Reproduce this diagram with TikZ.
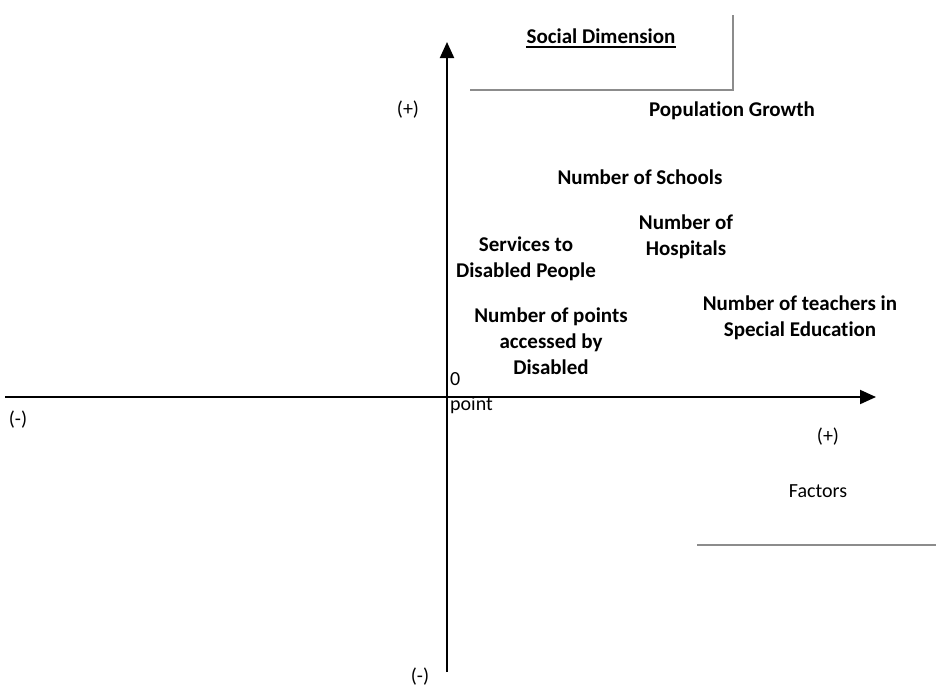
\documentclass[tikz,border=0pt]{standalone}
\usepackage{fontspec}
\setmainfont{Carlito}[Ligatures=NoCommon]
\usetikzlibrary{arrows.meta}
\tikzset{
  factor/.style={font=\bfseries\fontsize{21}{26}\selectfont,align=center,inner sep=0pt},
  plain/.style={font=\fontsize{20}{26}\selectfont,inner sep=0pt},
  axis/.style={line width=2pt,-{Triangle[length=16pt,width=14pt]}},
  frame/.style={line width=1.5pt,black!45}
}
\begin{document}
\begin{tikzpicture}[x=1pt,y=-1pt]
\useasboundingbox (0,0) rectangle (936,689);
\coordinate (L) at (5,397);
\coordinate (R) at (876,397);
\coordinate (B) at (447,672);
\coordinate (T) at (447,42);
\draw [axis] (L) -- (R);
\draw [axis] (B) -- (T);
\coordinate (F1) at (470,90);
\coordinate (F2) at (733,90);
\coordinate (F3) at (733,15);
\draw [frame] (F1) -- (F2) -- (F3);
\draw [frame] (697,545) -- (936,545);
\node (title) [factor] at (601,36) {Social Dimension};
\draw [line width=1.6pt] ([yshift=-3.5pt]title.base west) -- ([yshift=-3.5pt]title.base east);
\node (pop) [factor] at (732,111) {Population Growth};
\node (schools) [factor] at (640,177) {Number of Schools};
\node (hosp) [factor] at (686,237) {Number of\\Hospitals};
\node (serv) [factor] at (526,259) {Services to\\Disabled People};
\node (points) [factor] at (551,341) {Number of points\\accessed by\\Disabled};
\node (teach) [factor] at (800,318) {Number of teachers in\\Special Education};
\node (zero) [plain,anchor=west] at (450,379) {0};
\node (pt) [plain,anchor=west] at (450,405) {point};
\node (yplus) [plain] at (408,110) {(+)};
\node (yminus) [plain] at (420,677) {(-)};
\node (xminus) [plain] at (18,420) {(-)};
\node (xplus) [plain] at (828,437) {(+)};
\node (fac) [plain] at (818,491) {Factors};
\end{tikzpicture}
\end{document}
